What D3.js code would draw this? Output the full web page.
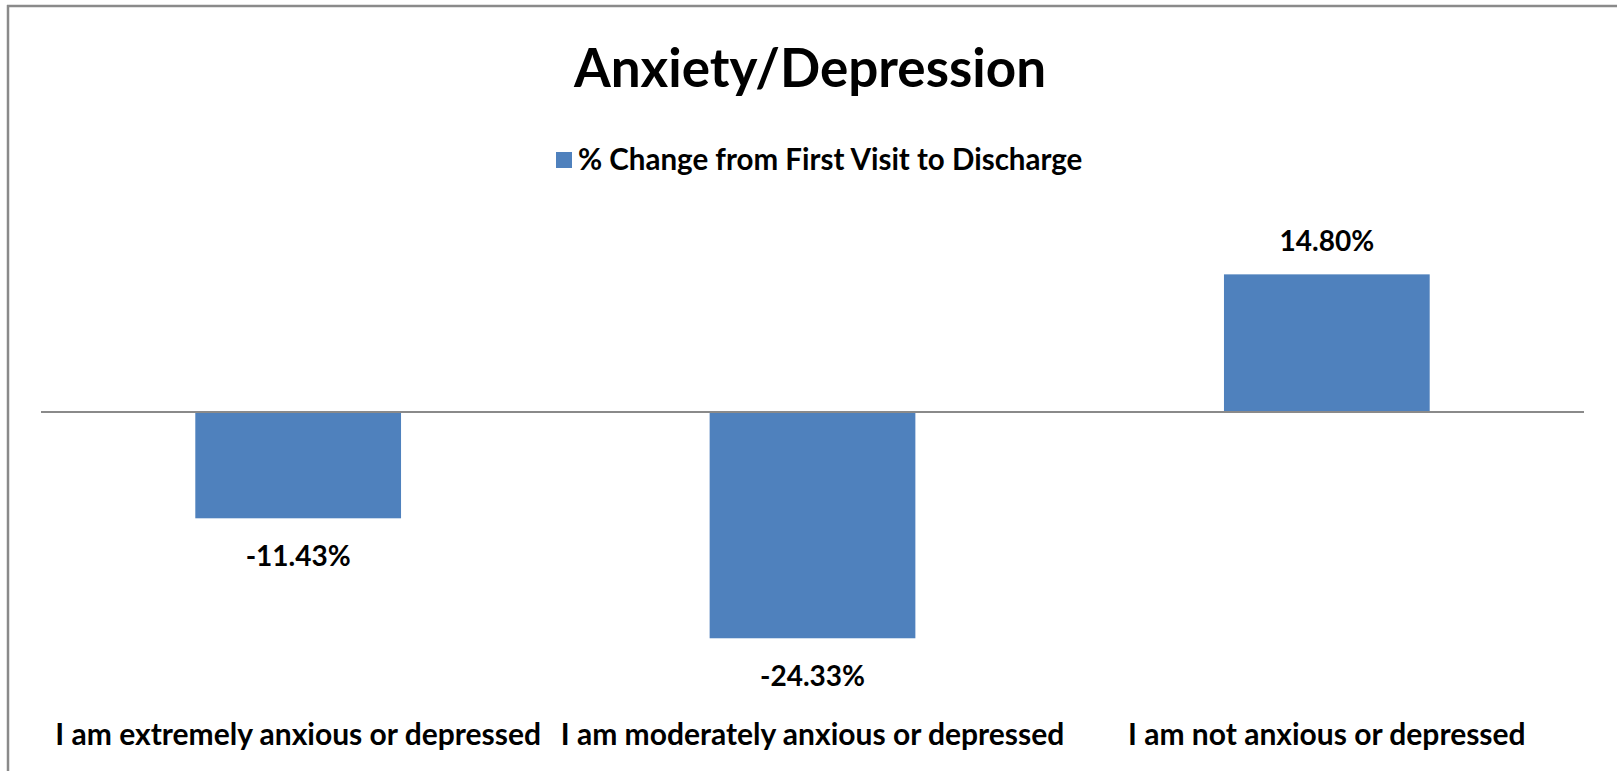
<!DOCTYPE html>
<html>
<head>
<meta charset="utf-8">
<script src="https://cdn.jsdelivr.net/npm/d3@7"></script>
<style>
  html, body { margin: 0; padding: 0; background: #fff; overflow: hidden; }
  svg { display: block; position: absolute; left: 0; top: 0; }
  text { font-family: Lato, "Open Sans", sans-serif; font-weight: bold; fill: #000; }
</style>
</head>
<body>
<div id="chart"></div>
<script>
var categories = ["I am extremely anxious or depressed", "I am moderately anxious or depressed", "I am not anxious or depressed"];
var values = [-11.43, -24.33, 14.80];
var labels = ["-11.43%", "-24.33%", "14.80%"];
var seriesName = "% Change from First Visit to Discharge";
var title = "Anxiety/Depression";

var width = 1617,
    height = 771,
    margin = {left: 41, right: 33};

var svg = d3.select("#chart").append("svg")
    .attr("width", width)
    .attr("height", height);

svg.append("rect")
    .attr("width", width)
    .attr("height", height)
    .attr("fill", "#fff");

// chart frame (only top and left edges are inside the picture)
svg.append("line")
    .attr("x1", 8).attr("x2", 8)
    .attr("y1", 5).attr("y2", height)
    .attr("stroke", "#8a8a8a")
    .attr("stroke-width", 2.5);

svg.append("line")
    .attr("x1", 7).attr("x2", width)
    .attr("y1", 6).attr("y2", 6)
    .attr("stroke", "#8a8a8a")
    .attr("stroke-width", 2.5);

var x = d3.scaleBand()
    .domain(categories)
    .range([margin.left, width - margin.right])
    .paddingInner(0.6)
    .paddingOuter(0.3);

var y = d3.scaleLinear()
    .domain([-30, 20])
    .range([691, 226]);

svg.append("text")
    .attr("x", 810)
    .attr("y", 87)
    .attr("text-anchor", "middle")
    .style("font-size", "53px")
    .text(title);

// legend
svg.append("rect")
    .attr("x", 556)
    .attr("y", 152)
    .attr("width", 16)
    .attr("height", 16)
    .attr("fill", "#4f81bd");

svg.append("text")
    .attr("x", 578)
    .attr("y", 170)
    .style("font-size", "29.5px")
    .text(seriesName);

svg.selectAll(".bar")
    .data(values)
  .enter().append("rect")
    .attr("class", "bar")
    .attr("x", function(d, i) { return x(categories[i]); })
    .attr("width", x.bandwidth())
    .attr("y", function(d) { return y(Math.max(0, d)); })
    .attr("height", function(d) { return Math.abs(y(d) - y(0)); })
    .attr("fill", "#4f81bd");

// zero line
svg.append("line")
    .attr("x1", margin.left)
    .attr("x2", width - margin.right)
    .attr("y1", y(0))
    .attr("y2", y(0))
    .attr("stroke", "#8a8a8a")
    .attr("stroke-width", 2);

svg.selectAll(".value")
    .data(values)
  .enter().append("text")
    .attr("class", "value")
    .attr("x", function(d, i) { return x(categories[i]) + x.bandwidth() / 2; })
    .attr("y", function(d) { return d < 0 ? y(d) + 48 : y(d) - 23; })
    .attr("text-anchor", "middle")
    .style("font-size", "28px")
    .text(function(d, i) { return labels[i]; });

svg.selectAll(".cat")
    .data(categories)
  .enter().append("text")
    .attr("class", "cat")
    .attr("x", function(d) { return x(d) + x.bandwidth() / 2; })
    .attr("y", 745)
    .attr("text-anchor", "middle")
    .style("font-size", "30px")
    .text(function(d) { return d; });
</script>
</body>
</html>
